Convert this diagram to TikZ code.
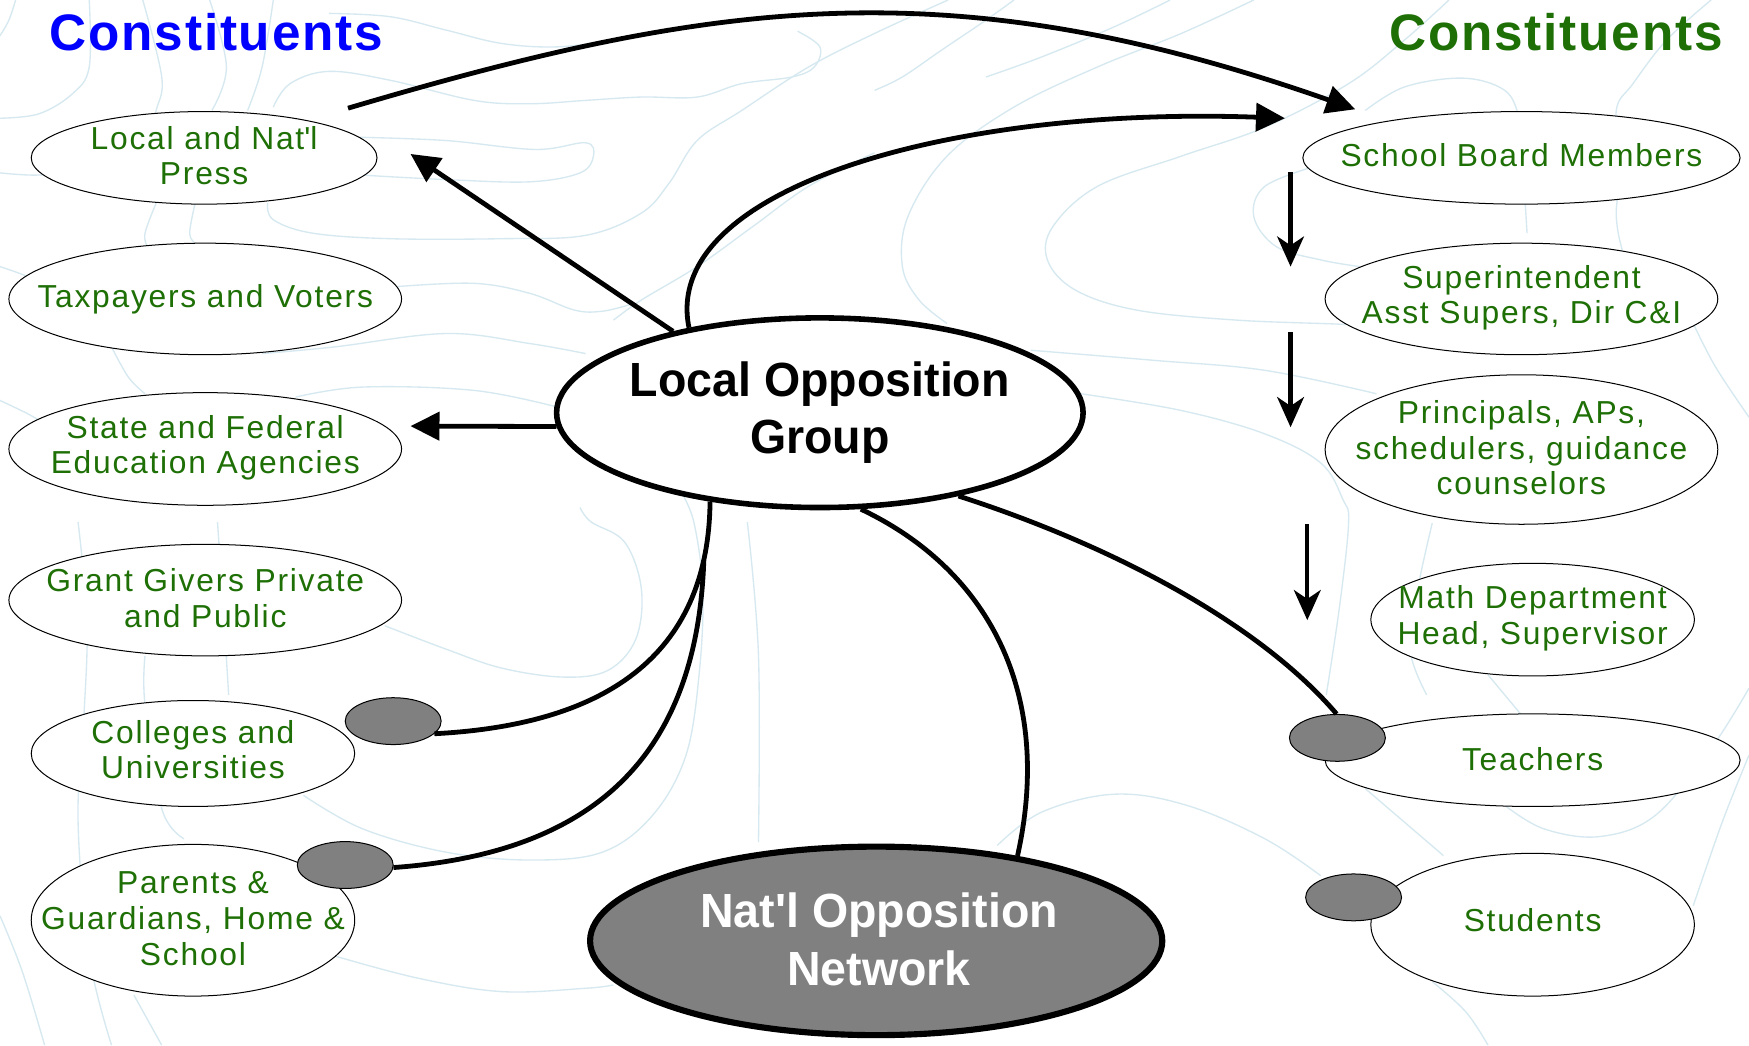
\documentclass[tikz,border=0pt]{standalone}
\usepackage{fontspec}
\setmainfont{Liberation Sans}
\newfontfamily\lblfont[LetterSpace=5.5]{Liberation Sans}
\newfontfamily\headfont[LetterSpace=3.5]{Liberation Sans}
\newfontfamily\hubfont[FakeStretch=0.97]{Liberation Sans}
\usetikzlibrary{shapes.geometric,arrows.meta}

\definecolor{lblgreen}{RGB}{30,112,6}
\definecolor{headblue}{RGB}{0,0,255}
\definecolor{contour}{RGB}{214,233,240}
\definecolor{dotgray}{RGB}{128,128,128}

\begin{document}
\begin{tikzpicture}[x=1pt,y=-1pt,
  contourline/.style={draw=contour, line width=1.2pt},
  party/.style={ellipse, draw=black, line width=0.9pt, fill=white, inner sep=0pt},
  lbl/.style={font=\lblfont\fontsize{28.5}{32}\selectfont, text=lblgreen, align=center, inner sep=0pt},
  graydot/.style={ellipse, draw=black, line width=0.9pt, fill=dotgray,
                  minimum width=86pt, minimum height=42pt, inner sep=0pt},
  hub/.style={ellipse, draw=black, inner sep=0pt},
  hubtext/.style={font=\hubfont\bfseries\fontsize{43}{51.5}\selectfont, align=center, inner sep=0pt},
  headline/.style={font=\headfont\bfseries\fontsize{46}{50}\selectfont, inner sep=0pt, anchor=base},
  link/.style={line width=4.3pt},
  bigtip/.style={-{Triangle[length=26pt,width=25pt]}},
  stepdown/.style={line width=3.8pt, -{Stealth[length=27pt,width=24pt,inset=8pt]}},
]
% canvas
\fill[white] (0,0) rectangle (1568,937);
\useasboundingbox (0,0) rectangle (1568,937);

% faint contour texture
\foreach \pts in {
  {(0,106) (35,102) (65,84) (80,60) (80,0)},
  {(0,32) (8,18) (14,0)},
  {(128,0) (145,69) (140,99) (132,126)},
  {(140,182) (130,209) (132,221)},
  {(188,0) (203,60) (190,99)},
  {(175,182) (170,209) (175,218)},
  {(245,0) (235,60) (222,99)},
  {(295,12) (350,15) (400,27) (450,39) (500,42) (550,36)},
  {(715,28) (735,42) (730,60) (710,69) (665,75) (625,87) (575,87) (525,90) (475,93) (425,90) (350,72) (295,64) (260,75) (245,96)},
  {(320,123) (400,126) (480,134) (525,128) (532,140) (520,155) (475,163) (400,161) (325,157)},
  {(0,155) (30,157) (65,155)},
  {(240,182) (245,197) (280,209) (350,214) (450,214) (525,211) (575,191) (600,164) (625,126) (665,99) (725,60) (784,30) (850,0)},
  {(784,137) (725,167) (675,203) (625,239) (575,269) (550,287)},
  {(355,257) (425,254) (475,263) (515,278) (540,279) (565,273)},
  {(0,239) (25,248) (50,260)},
  {(235,317) (300,311) (400,299) (475,308) (525,317)},
  {(100,311) (115,338) (130,353)},
  {(265,356) (325,347) (425,350) (500,365)},
  {(0,359) (25,371) (40,380)},
  {(909,0) (884,18) (844,45) (809,69) (784,81)},
  {(1049,0) (999,24) (934,51) (884,69)},
  {(1299,0) (1259,36) (1209,75) (1134,114) (1059,140) (984,167) (944,203) (939,233) (964,260) (1019,278) (1109,287) (1209,291) (1284,296)},
  {(1124,0) (1059,30) (984,60) (909,96) (849,140) (814,194) (809,239) (824,269) (849,290)},
  {(1224,99) (1259,78) (1309,70) (1344,78) (1359,96) (1364,134) (1369,209)},
  {(1179,149) (1134,167) (1124,194) (1144,221) (1184,233) (1219,239)},
  {(1534,0) (1494,36) (1464,75) (1449,99) (1454,149) (1449,194) (1459,239) (1484,299)},
  {(1518,290) (1538,329) (1568,374)},
  {(924,314) (1034,323) (1134,332) (1234,353)},
  {(969,353) (1059,368) (1134,389) (1184,415) (1204,448) (1209,469) (1201,543) (1189,623)},
  {(1284,469) (1271,528) (1264,582) (1279,623)},
  {(70,468) (78,558) (75,647) (70,737) (80,857) (100,937)},
  {(130,588) (130,632) (145,725) (165,752)},
  {(195,468) (200,543) (205,623)},
  {(520,455) (530,468) (560,486) (575,528) (570,573) (545,601) (505,607) (450,599) (400,582) (345,561)},
  {(272,713) (325,743) (400,764) (475,771) (540,764) (585,731) (615,677) (627,602) (630,528) (622,468) (610,440)},
  {(670,468) (680,588) (680,755)},
  {(300,857) (375,877) (450,889) (525,886) (550,883)},
  {(0,821) (20,871) (40,937)},
  {(120,892) (145,937)},
  {(894,758) (934,728) (999,712) (1064,722) (1134,752) (1184,785)},
  {(1334,605) (1364,641)},
  {(1349,722) (1384,743) (1434,750) (1484,731) (1534,671) (1568,617)},
  {(1224,707) (1259,737) (1294,767)},
  {(1568,677) (1544,737) (1518,812)},
  {(1284,880) (1314,907) (1334,937)}}
  \draw[contourline] plot[smooth, tension=0.6] coordinates \pts;

% column headings
\node[headline, text=headblue] (lhead) at (194,45) {Constituents};
\node[headline, text=lblgreen] (rhead) at (1395,45) {Constituents};

% left-hand constituents
\node[party, minimum width=310pt, minimum height=83pt] (press) at (183,141.5) {};
\node[lbl] (presst) at (183,139.5) {Local and Nat\textquotesingle l\\Press};
\node[party, minimum width=352pt, minimum height=100pt] (taxp) at (184,268) {};
\node[lbl] (taxpt) at (taxp.center) {Taxpayers and Voters};
\node[party, minimum width=352pt, minimum height=101pt] (state) at (184,402.5) {};
\node[lbl] (statet) at (184,401.5) {State and Federal\\Education Agencies};
\node[party, minimum width=352pt, minimum height=100pt] (grant) at (184,538) {};
\node[lbl] (grantt) at (184,536.5) {Grant Givers Private\\and Public};
\node[party, minimum width=290pt, minimum height=95pt] (coll) at (173,675.5) {};
\node[lbl] (collt) at (173,672) {Colleges and\\Universities};
\node[party, minimum width=290pt, minimum height=136pt] (par) at (173,825) {};
\node[lbl] (part) at (173,823.5) {Parents \&\\Guardians, Home \&\\School};
\node[graydot] (cdot) at (352.5,646.5) {};
\node[graydot] (pdot) at (309.5,775.5) {};

% right-hand constituents
\node[party, minimum width=392pt, minimum height=83pt] (board) at (1364,141.5) {};
\node[lbl] (boardt) at (1364,139.5) {School Board Members};
\node[party, minimum width=352pt, minimum height=100pt] (supt) at (1364,268) {};
\node[lbl] (suptt) at (1364,267) {Superintendent\\Asst Supers, Dir C\&I};
\node[party, minimum width=352pt, minimum height=134pt] (prin) at (1364,403) {};
\node[lbl] (print) at (1364,401.5) {Principals, APs,\\schedulers, guidance\\counselors};
\node[party, minimum width=290pt, minimum height=101pt] (math) at (1374,555.5) {};
\node[lbl] (matht) at (1374,554.5) {Math Department\\Head, Supervisor};
\node[party, minimum width=372pt, minimum height=83pt] (teach) at (1374,681.5) {};
\node[lbl] (teacht) at (1374,681) {Teachers};
\node[party, minimum width=290pt, minimum height=128pt] (stud) at (1374,829) {};
\node[lbl] (studt) at (1374,825) {Students};
\node[graydot] (tdot) at (1199,661.5) {};
\node[graydot] (sdot) at (1213.5,804.5) {};

% the two opposition bodies
\node[hub, line width=5pt, fill=white, minimum width=472pt, minimum height=170pt] (log) at (735,370) {};
\node[hubtext] (logt) at (735,370) {Local Opposition\\Group};
\node[hub, line width=5.5pt, fill=dotgray, minimum width=513pt, minimum height=169pt] (nat) at (785.5,843.5) {};
\node[hubtext, text=white] (natt) at (788,842) {Nat\textquotesingle l Opposition\\Network};

% free connector ends
\coordinate (pressout) at (312,97);
\coordinate (boardtipa) at (1215,98);
\coordinate (boardtipb) at (1152,106);
\coordinate (presstip) at (368,138);
\coordinate (statetip) at (368,382);
\coordinate (parentsfrom) at (631,502);
\coordinate (d1s) at (1157,154);
\coordinate (d1e) at (1157,239);
\coordinate (d2s) at (1157,298);
\coordinate (d2e) at (1157,383);
\coordinate (d3s) at (1172,470);
\coordinate (d3e) at (1172,556);

% connectors
\draw[link, bigtip] (pressout) .. controls (640,0) and (850,-30) .. (boardtipa);
\draw[link, bigtip] (log.147) .. controls (592,170) and (850,95) .. (boardtipb);
\draw[link, bigtip] (log.151) -- (presstip);
\draw[link, bigtip] (log.183) -- (statetip);
\draw[link] (log.219) .. controls (635,590) and (540,650) .. (cdot.-17);
\draw[link] (parentsfrom) .. controls (625,680) and (530,765) .. (pdot.-3);
\draw[link] (log.293) .. controls (885,510) and (945,620) .. (nat.31);
\draw[link] (log.329) .. controls (1000,490) and (1130,560) .. (tdot.92);

% chain of command on the right
\draw[stepdown] (d1s) -- (d1e);
\draw[stepdown] (d2s) -- (d2e);
\draw[stepdown] (d3s) -- (d3e);
\end{tikzpicture}
\end{document}
